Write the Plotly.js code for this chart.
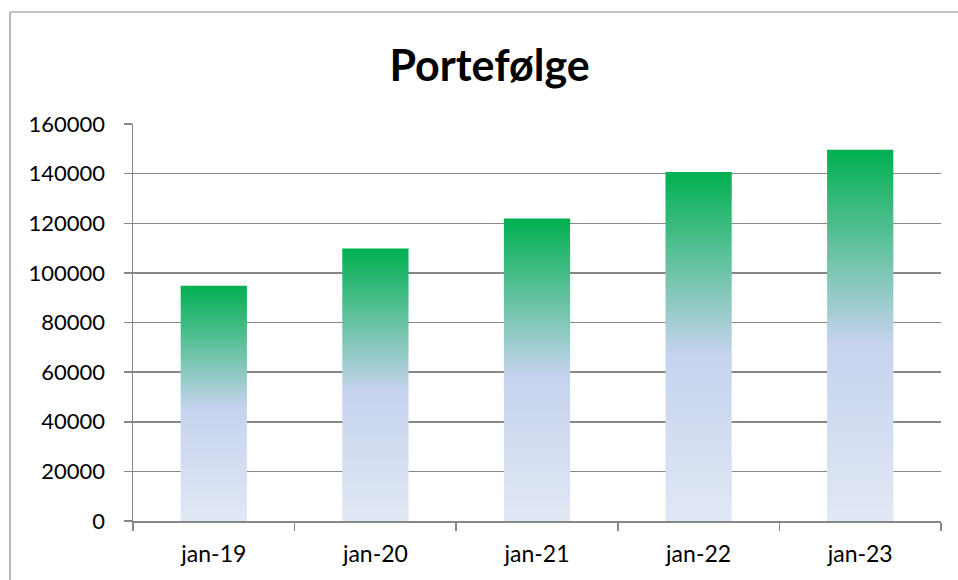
<!DOCTYPE html>
<html>
<head>
<meta charset="utf-8">
<script src="https://cdn.plot.ly/plotly-3.0.1.min.js"></script>
<style>
  html, body { margin: 0; padding: 0; background: #ffffff; overflow: hidden; }
  #chart { width: 958px; height: 580px; }
</style>
</head>
<body>
<div id="chart"></div>
<script>
const categories = ["jan-19", "jan-20", "jan-21", "jan-22", "jan-23"];
const values = [94800, 109800, 121900, 140700, 149600];
const yTicks = [0, 20000, 40000, 60000, 80000, 100000, 120000, 140000, 160000];

const gridGray = "#878787";
const font = "Lato, 'Open Sans', sans-serif";

const trace = {
  type: "bar",
  x: categories,
  y: values,
  marker: { color: "#9fd1c4", line: { width: 0 } },
  hoverinfo: "x+y"
};

const frameX = (10 - 133) / 808;
const frameY = (521 - 12) / 397;

const layout = {
  width: 958,
  height: 580,
  margin: { l: 133, r: 17, t: 124, b: 59 },
  paper_bgcolor: "#ffffff",
  plot_bgcolor: "#ffffff",
  showlegend: false,
  bargap: 0.59,
  title: {
    text: "<b>Portefølge</b>",
    font: { family: font, size: 43, color: "#000000" },
    x: 0.511, xanchor: "center",
    y: 0.886, yanchor: "middle"
  },
  xaxis: {
    type: "category",
    showline: true, linecolor: gridGray, linewidth: 1.5,
    ticks: "outside", tickson: "boundaries", ticklen: 8, tickcolor: gridGray, tickwidth: 1.5,
    ticklabelstandoff: 12,
    showgrid: false,
    tickfont: { family: font, size: 23, color: "#000000" },
    fixedrange: true
  },
  yaxis: {
    range: [0, 160000],
    tickvals: yTicks,
    ticktext: yTicks.map(String),
    showline: true, linecolor: gridGray, linewidth: 1.5,
    ticks: "outside", ticklen: 8, tickcolor: gridGray, tickwidth: 1.5,
    ticklabelstandoff: 14,
    showgrid: true, gridcolor: gridGray, gridwidth: 1.5,
    zeroline: false,
    tickfont: { family: font, size: 22, color: "#000000" },
    fixedrange: true
  },
  shapes: [
    {
      type: "line", xref: "paper", yref: "paper",
      x0: frameX, x1: frameX, y0: -0.3, y1: frameY,
      line: { color: "#8a8a8a", width: 1.2 }, layer: "below"
    },
    {
      type: "line", xref: "paper", yref: "paper",
      x0: frameX, x1: 1.03, y0: frameY, y1: frameY,
      line: { color: "#8a8a8a", width: 1.2 }, layer: "below"
    }
  ]
};

Plotly.newPlot("chart", [trace], layout, { staticPlot: true, displayModeBar: false }).then(function (gd) {
  const svg = gd.querySelector(".main-svg");
  const ns = "http://www.w3.org/2000/svg";
  let defs = svg.querySelector("defs");
  if (!defs) { defs = document.createElementNS(ns, "defs"); svg.insertBefore(defs, svg.firstChild); }
  const grad = document.createElementNS(ns, "linearGradient");
  grad.setAttribute("id", "barGrad");
  grad.setAttribute("x1", "0"); grad.setAttribute("y1", "1");
  grad.setAttribute("x2", "0"); grad.setAttribute("y2", "0");
  const stops = [
    ["0", "#e1e8f5"],
    ["0.48", "#c5d3ee"],
    ["1", "#00b050"]
  ];
  stops.forEach(function (s) {
    const st = document.createElementNS(ns, "stop");
    st.setAttribute("offset", s[0]);
    st.setAttribute("stop-color", s[1]);
    grad.appendChild(st);
  });
  defs.appendChild(grad);
  gd.querySelectorAll(".barlayer .point path").forEach(function (p) {
    p.style.fill = "url(#barGrad)";
  });
});
</script>
</body>
</html>
